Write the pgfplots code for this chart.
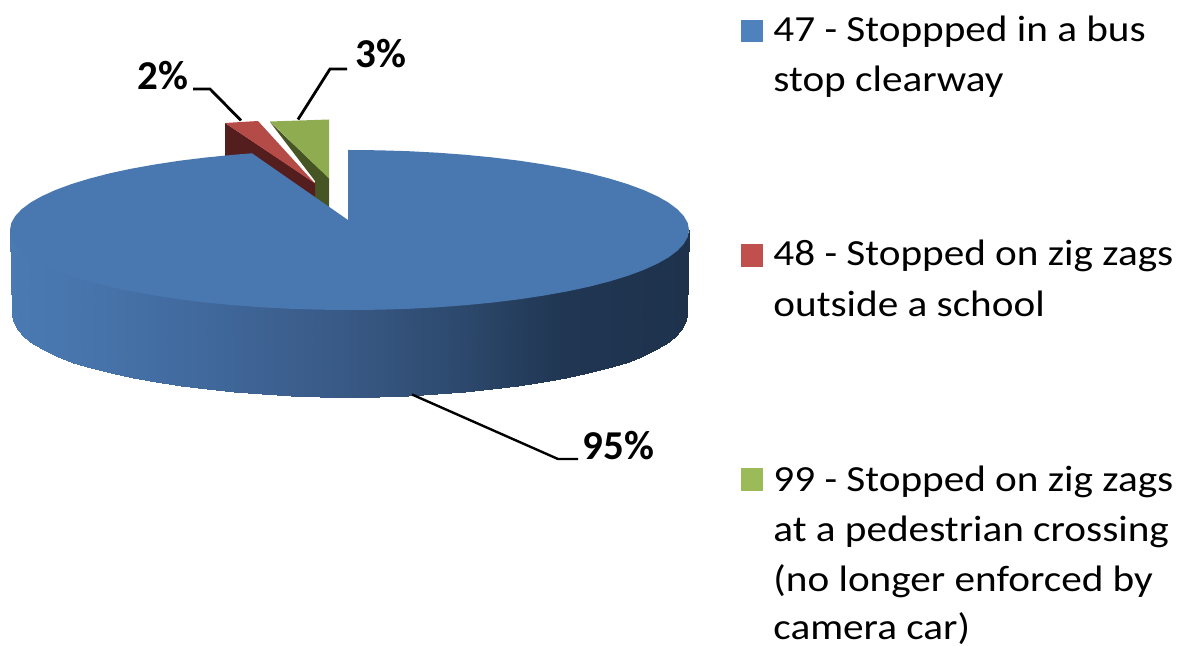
\documentclass[border=0pt]{standalone}
\usepackage{fontspec}
\setmainfont{Carlito}
\newfontfamily\keyfont[FakeStretch=1.12]{Carlito}
\usepackage{pgfplots}
\pgfplotsset{compat=1.18}
\definecolor{blueTop}{RGB}{73,120,177}
\definecolor{redTop}{RGB}{180,75,71}
\definecolor{redSide}{RGB}{84,30,30}
\definecolor{greenTop}{RGB}{143,172,80}
\definecolor{greenSide}{RGB}{70,85,35}
\definecolor{keyBlue}{RGB}{79,129,189}
\definecolor{keyRed}{RGB}{192,80,77}
\definecolor{keyGreen}{RGB}{155,187,89}
\newcommand{\keyline}[3]{\node[anchor=base west,inner sep=0pt,font=\keyfont\fontsize{18.4}{22}\selectfont] at (axis cs:#1,#2) {#3};}
\newcommand{\pct}[3]{\node[anchor=base west,inner sep=0pt,font=\fontsize{20.5}{24}\selectfont\bfseries] at (axis cs:#1,#2) {#3};}
\begin{document}
\begin{tikzpicture}[x=1pt,y=1pt]
\useasboundingbox (0,0) rectangle (596pt,323pt);
\begin{axis}[
  at={(0,0)}, anchor=south west,
  scale only axis, width=596pt, height=323pt,
  xmin=0, xmax=1192, ymin=0, ymax=646, y dir=reverse,
  hide axis, clip=false,
  colormap={sidewall}{
    rgb255(0)=(74,122,178) rgb255(90)=(70,115,170) rgb255(200)=(64,104,155)
    rgb255(340)=(56,88,132) rgb255(450)=(44,72,108) rgb255(550)=(32,54,82)
    rgb255(674)=(30,50,76)},
]
% rim of the large slice; its upper row runs underneath the top face
\addplot[surf, shader=interp, mesh/rows=2, point meta=x] table {
x y
10 230
11.3 234.9
15.2 239.7
21.6 244.5
30.5 249.2
41.8 253.7
55.5 258
71.4 262.1
89.4 266
109.4 269.6
131.3 272.9
154.8 275.9
179.7 278.5
206 280.8
233.4 282.6
261.6 284.1
290.6 285.2
319.9 285.8
349.5 286
379.1 285.8
408.4 285.2
437.4 284.1
465.6 282.6
493 280.8
519.3 278.5
544.2 275.9
567.7 272.9
589.6 269.6
609.6 266
627.6 262.1
643.5 258
657.2 253.7
668.5 249.2
677.4 244.5
683.8 239.7
687.7 234.9
689 230
12.5 316
13.8 323.1
17.6 330.1
24 337
32.8 343.7
44.1 350.2
57.7 356.5
73.4 362.5
91.3 368.1
111.2 373.3
132.9 378
156.2 382.4
181 386.1
207.1 389.4
234.2 392.1
262.3 394.2
291 395.8
320.1 396.7
349.5 397
378.9 396.7
408 395.8
436.7 394.2
464.8 392.1
491.9 389.4
518 386.1
542.8 382.4
566.1 378
587.8 373.3
607.7 368.1
625.6 362.5
641.3 356.5
654.9 350.2
666.2 343.7
675 337
681.4 330.1
685.2 323.1
686.5 316
};
% green slice, pulled away from the pie
\addplot[fill=greenSide, draw=none] coordinates {(270,122) (329,178) (329,210) (315,202) (315,181)} -- cycle;
\addplot[fill=greenTop, draw=none] coordinates {(270,121.5) (329,119.5) (329,178.5)} -- cycle;
% red slice
\addplot[fill=redSide, draw=none] coordinates {(225,123) (315,183) (315,200) (225,160)} -- cycle;
\addplot[fill=redTop, draw=none] coordinates {(225,123) (258,121) (315,183.5)} -- cycle;
% top face of the large slice
\addplot[fill=blueTop, draw=none] coordinates {
(348,150) (349.5,150) (379.1,150.3) (408.4,151.2) (437.4,152.7) (465.6,154.8) (493,157.5) (519.3,160.7)
(544.2,164.5) (567.7,168.7) (589.6,173.4) (609.6,178.6) (627.6,184.1) (643.5,190) (657.2,196.2)
(668.5,202.6) (677.4,209.3) (683.8,216.1) (687.7,223) (689,230) (687.7,237) (683.8,243.9) (677.4,250.7)
(668.5,257.4) (657.2,263.8) (643.5,270) (627.6,275.9) (609.6,281.4) (589.6,286.6) (567.7,291.3)
(544.2,295.5) (519.3,299.3) (493,302.5) (465.6,305.2) (437.4,307.3) (408.4,308.8) (379.1,309.7)
(349.5,310) (319.9,309.7) (290.6,308.8) (261.6,307.3) (233.4,305.2) (206,302.5) (179.7,299.3)
(154.8,295.5) (131.3,291.3) (109.4,286.6) (89.4,281.4) (71.4,275.9) (55.5,270) (41.8,263.8) (30.5,257.4)
(21.6,250.7) (15.2,243.9) (11.3,237) (10,230) (11.3,223) (15.2,216.1) (21.6,209.3) (30.5,202.6)
(41.8,196.2) (55.5,190) (71.4,184.1) (89.4,178.6) (109.4,173.4) (131.3,168.7) (154.8,164.5) (179.7,160.7)
(206,157.5) (233.4,154.8) (252,153.3) (348,220)} -- cycle;
% leader lines
\addplot[black, line width=1.4pt] coordinates {(193,89) (210,89) (241,120.5)};
\addplot[black, line width=1.4pt] coordinates {(347,69) (330,69) (298,119.5)};
\addplot[black, line width=1.2pt] coordinates {(412,394.5) (558,459) (578,459)};
% colour keys
\addplot[fill=keyBlue, draw=none] coordinates {(741,20) (763,20) (763,42) (741,42)} -- cycle;
\addplot[fill=keyRed, draw=none] coordinates {(741,244) (763,244) (763,267.5) (741,267.5)} -- cycle;
\addplot[fill=keyGreen, draw=none] coordinates {(741,468) (763,468) (763,491) (741,491)} -- cycle;
\pct{137}{89.5}{2\%}
\pct{355}{68}{3\%}
\pct{582.5}{459.5}{95\%}
\keyline{773}{42}{47 - Stoppped in a bus}
\keyline{773}{92}{stop clearway}
\keyline{773}{266}{48 - Stopped on zig zags}
\keyline{773}{316}{outside a school}
\keyline{773}{491.5}{99 - Stopped on zig zags}
\keyline{773}{541.5}{at a pedestrian crossing}
\keyline{773}{591.5}{(no longer enforced by}
\keyline{773}{639.5}{camera car)}
\end{axis}
\end{tikzpicture}
\end{document}
